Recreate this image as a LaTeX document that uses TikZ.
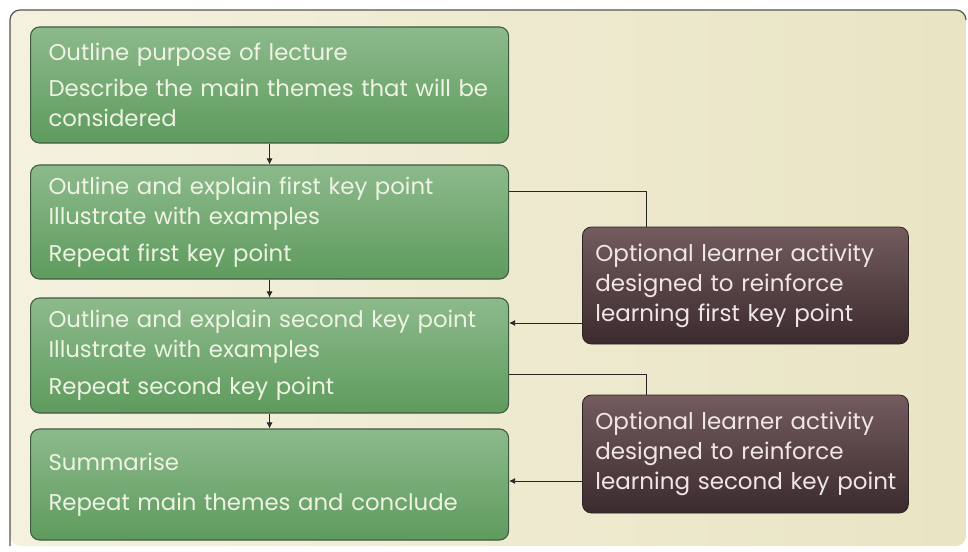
\documentclass[tikz,border=0pt]{standalone}
\usepackage{fontspec}
\setmainfont{Poppins}
\usetikzlibrary{arrows.meta}
\definecolor{bgA}{HTML}{F4F1DF}
\definecolor{bgB}{HTML}{E9E4C3}
\definecolor{frame}{HTML}{55554F}
\definecolor{gtop}{HTML}{8DBA8C}
\definecolor{gbot}{HTML}{5E9B5D}
\definecolor{gborder}{HTML}{3F5B40}
\definecolor{gtext}{HTML}{EEF3E4}
\definecolor{dtop}{HTML}{735B5E}
\definecolor{dbot}{HTML}{3B2B2E}
\definecolor{dtext}{HTML}{EFE6E6}
\tikzset{
  gbox/.style={draw=gborder, line width=1.1pt, rounded corners=9pt,
    top color=gtop, bottom color=gbot, minimum width=478pt,
    text width=442pt, inner xsep=18pt, inner ysep=0pt, align=left, text=gtext,
    font=\fontsize{22.8}{30}\selectfont, anchor=west},
  dbox/.style={draw=dbot!80!black, line width=0.8pt, rounded corners=9pt,
    top color=dtop, bottom color=dbot, minimum width=326pt,
    text width=300pt, inner xsep=13pt, inner ysep=0pt, align=left, text=dtext,
    font=\fontsize{23}{30}\selectfont, anchor=west},
  conn/.style={draw=black!85, line width=0.8pt},
  arr/.style={conn, -{Latex[length=6pt,width=6pt]}},
}
\begin{document}
\begin{tikzpicture}[x=1pt,y=-1pt]
\useasboundingbox (0,0) rectangle (968,551);
\fill[white] (0,0) rectangle (968,551);
\shade[left color=bgA, right color=bgB, rounded corners=10pt] (10,10) rectangle (966,546);
\draw[frame, line width=1.2pt, rounded corners=10pt] (10,546) -- (10,10) -- (966,10) -- (966,20);

\node[gbox, minimum height=116pt] (g1) at (30,85)
  {\mbox{Outline purpose of lecture}\\[6pt]\mbox{Describe the main themes that will be}\\\mbox{considered}};
\node[gbox, minimum height=114pt] (g2) at (30,222)
  {\mbox{Outline and explain first key point}\\\mbox{Illustrate with examples}\\[7pt]\mbox{Repeat first key point}};
\node[gbox, minimum height=115pt] (g3) at (30,355.5)
  {\mbox{Outline and explain second key point}\\\mbox{Illustrate with examples}\\[7pt]\mbox{Repeat second key point}};
\node[gbox, minimum height=111pt] (g4) at (30,484.5)
  {\mbox{Summarise}\\[10pt]\mbox{Repeat main themes and conclude}};

\node[dbox, minimum height=117pt] (d1) at (582,285.5)
  {\mbox{Optional learner activity}\\\mbox{designed to reinforce}\\\mbox{learning first key point}};
\node[dbox, minimum height=118pt] (d2) at (582,454)
  {\mbox{Optional learner activity}\\\mbox{designed to reinforce}\\\mbox{learning second key point}};

\draw[arr] (g1.south) -- (g2.north);
\draw[arr] (g2.south) -- (g3.north);
\draw[arr] (g3.south) -- (g4.north);

\coordinate (k1) at (646,191);
\coordinate (k2) at (646,374);
\coordinate (a1) at (582,323);
\coordinate (a2) at (582,481);
\draw[conn] (g2.east |- k1) -- (k1) -- (k1 |- d1.north);
\draw[conn] (g3.east |- k2) -- (k2) -- (k2 |- d2.north);
\draw[arr] (a1) -- (g3.east |- a1);
\draw[arr] (a2) -- (g4.east |- a2);
\end{tikzpicture}
\end{document}
